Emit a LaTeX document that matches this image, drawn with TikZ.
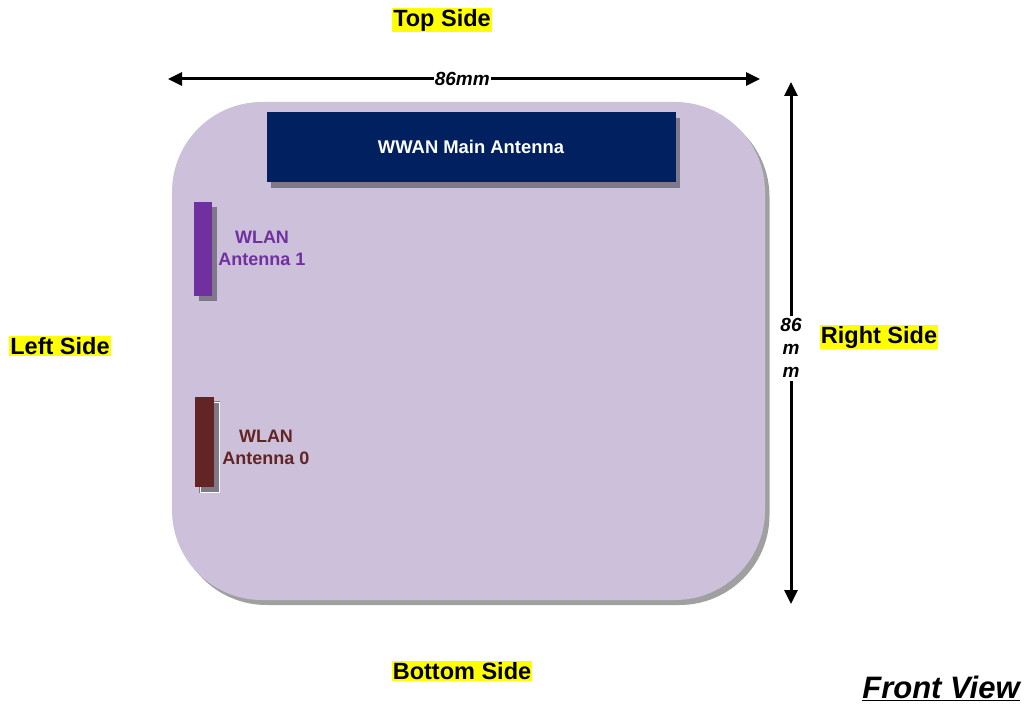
\documentclass[tikz,border=0pt]{standalone}
\usepackage{fontspec}
\setmainfont{Liberation Sans}
\usepackage{xcolor}
\usepackage{tikz}
\usetikzlibrary{arrows.meta}
\definecolor{boardLilac}{HTML}{CCC0DA}
\definecolor{boardShadow}{HTML}{A0A0A0}
\definecolor{antShadow}{HTML}{7E7888}
\definecolor{wwanNavy}{HTML}{002060}
\definecolor{wlanPurple}{HTML}{7030A0}
\definecolor{wlanMaroon}{HTML}{632523}
\definecolor{sideYellow}{HTML}{FFFF00}
\tikzset{
  board/.style={rectangle, rounded corners=90pt, fill=boardLilac, minimum width=593pt, minimum height=498pt, inner sep=0pt},
  boardshade/.style={board, fill=boardShadow},
  antbar/.style n args={3}{rectangle, fill=#1, minimum width=#2, minimum height=#3, inner sep=0pt},
  antshade/.style 2 args={rectangle, fill=antShadow, minimum width=#1, minimum height=#2, inner sep=0pt},
  antlabel/.style={font=\fontsize{18pt}{22pt}\selectfont\bfseries, text=#1, align=center, inner sep=0pt},
  sidelabel/.style={fill=sideYellow, font=\fontsize{23.5pt}{28pt}\selectfont\bfseries, inner sep=1pt},
  dimarrow/.style={{Triangle[length=14pt,width=13pt]}-{Triangle[length=14pt,width=13pt]}, line width=3pt},
  dimlabel/.style={font=\fontsize{19pt}{23pt}\selectfont\bfseries\itshape, fill=white, inner sep=1pt, align=center},
}
\begin{document}
\begin{tikzpicture}[x=1pt,y=-1pt]
  \useasboundingbox (0,0) rectangle (1033,706);

  % board and its shadow
  \node[boardshade] at (473,356) {};
  \node[board] (board) at (468.5,351) {};

  % antennas
  \node[antshade={409pt}{70pt}] at (475.5,153) {};
  \node[antbar={wwanNavy}{409pt}{70pt}, text=white, font=\fontsize{18.4pt}{22pt}\selectfont\bfseries] (wwan) at (471,147) {WWAN Main Antenna};

  \node[antshade={18pt}{94pt}] at (208,254) {};
  \node[antbar={wlanPurple}{18pt}{94pt}] (wlan1) at (203,249) {};
  \node[antlabel=wlanPurple] (wlan1lab) at (262,248) {WLAN\\Antenna 1};

  \node[antshade={19pt}{90pt}, draw=antShadow, double=white, double distance=0.8pt, line width=1pt] at (209.5,447) {};
  \node[antbar={wlanMaroon}{19pt}{90pt}] (wlan0) at (204.5,442) {};
  \node[antlabel=wlanMaroon] (wlan0lab) at (266,447) {WLAN\\Antenna 0};

  % dimension arrows
  \coordinate (hl) at (168,79);
  \coordinate (hr) at (760,79);
  \coordinate (vt) at (791,82);
  \coordinate (vb) at (791,604);
  \draw[dimarrow] (hl) -- node[dimlabel, pos=0.497] (hdim) {86mm} (hr);
  \draw[dimarrow] (vt) -- node[dimlabel, pos=0.51, inner ysep=3pt] (vdim) {86\\m\\m} (vb);

  % side labels
  \node[sidelabel] (top) at (442,20) {Top Side};
  \node[sidelabel] (left) at (60,346) {Left Side};
  \node[sidelabel] (right) at (879,337) {Right Side};
  \node[sidelabel] (bottom) at (462,671) {Bottom Side};

  \node[font=\fontsize{31pt}{36pt}\selectfont\bfseries\itshape, inner sep=0pt] (view) at (941,688) {\underline{Front View}};
\end{tikzpicture}
\end{document}
